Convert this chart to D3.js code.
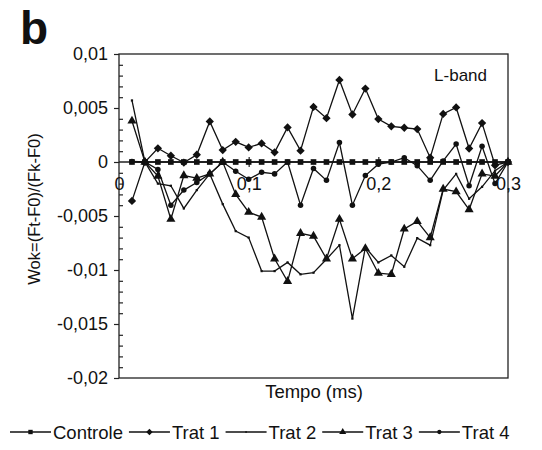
<!DOCTYPE html>
<html>
<head>
<meta charset="utf-8">
<script src="https://cdn.jsdelivr.net/npm/d3@7"></script>
<style>
  body { margin: 0; background: #fff; }
  text { font-family: "Liberation Sans", Arial, sans-serif; fill: #111; }
</style>
</head>
<body>
<div id="chart"></div>
<script>
// data
var tempo = [0.01, 0.02, 0.03, 0.04, 0.05, 0.06, 0.07, 0.08, 0.09, 0.10,
             0.11, 0.12, 0.13, 0.14, 0.15, 0.16, 0.17, 0.18, 0.19, 0.20,
             0.21, 0.22, 0.23, 0.24, 0.25, 0.26, 0.27, 0.28, 0.29, 0.30];
var controle = [0, 0, 0, 0, 0, 0, 0, 0, 0, 0,
                0, 0, 0, 0, 0, 0, 0, 0, 0, 0,
                0, 0, 0, 0, 0, 0, 0, 0, 0, 0];
var trat1 = [-0.0036, 0, 0.00127, 0.00058, -0.00005, 0.00067, 0.00376, 0.0011, 0.00187, 0.00135,
             0.00172, 0.0009, 0.0032, 0.00105, 0.0051, 0.00406, 0.0076, 0.0044, 0.0068, 0.00397,
             0.0033, 0.00317, 0.00305, 0.0004, 0.00445, 0.00505, 0.00125, 0.0036, -0.0003, 0];
var trat2 = [0.0057, 0, -0.002, -0.0022, -0.0043, -0.0026, -0.0011, -0.0039, -0.0064, -0.007,
             -0.0101, -0.0101, -0.0093, -0.0104, -0.01025, -0.009, -0.0077, -0.0145, -0.0079, -0.0093,
             -0.00865, -0.0097, -0.00705, -0.0077, -0.0026, -0.0011, -0.0034, -0.0023, -0.0008, 0];
var trat3 = [0.0038, 0, -0.0013, -0.0053, -0.00125, -0.0015, -0.0011, 0, -0.003, -0.00465,
             -0.0051, -0.00896, -0.01105, -0.0066, -0.00686, -0.00896, -0.0053, -0.00896, -0.008, -0.0103,
             -0.0104, -0.0062, -0.0055, -0.007, -0.0025, -0.00275, -0.0044, -0.0011, -0.0013, 0];
var trat4 = [0.00005, 0, -0.0007, -0.004, -0.0026, -0.0019, -0.0011, 0, -0.00085, -0.0016,
             -0.00095, -0.0011, 0, -0.004, -0.0006, -0.0017, 0.0018, -0.004, -0.00126, -0.0002,
             0, 0.0004, -0.00034, -0.0017, 0.0001, 0.00166, -0.0022, 0.00145, -0.002, 0];
var seriesNames = ["Controle", "Trat 1", "Trat 2", "Trat 3", "Trat 4"];
var xTicks = [0, 0.1, 0.2, 0.3];
var yTicks = [0.01, 0.005, 0, -0.005, -0.01, -0.015, -0.02];

var series = [
  {name: seriesNames[0], values: controle, symbol: d3.symbolSquare, size: 32},
  {name: seriesNames[1], values: trat1, symbol: d3.symbolDiamond2, size: 44},
  {name: seriesNames[2], values: trat2, symbol: d3.symbolSquare, size: 5},
  {name: seriesNames[3], values: trat3, symbol: d3.symbolTriangle, size: 36},
  {name: seriesNames[4], values: trat4, symbol: d3.symbolCircle, size: 24}
];

var W = 542, H = 450;
var plot = {left: 119, right: 508, top: 54, bottom: 378};

var svg = d3.select("#chart")
    .append("svg")
    .attr("width", W)
    .attr("height", H);

var x = d3.scaleLinear().domain([0, 0.3]).range([plot.left, plot.right]);
var y = d3.scaleLinear().domain([-0.02, 0.01]).range([plot.bottom, plot.top]);

var loc = d3.formatLocale({decimal: ",", thousands: ".", grouping: [3], currency: ["", ""], minus: "-"});
var fmt = loc.format("~g");

// panel letter
svg.append("text")
    .attr("x", 20).attr("y", 44)
    .style("font-size", "46px")
    .style("font-weight", "bold")
    .text("b");

// frame
svg.append("rect")
    .attr("x", plot.left).attr("y", plot.top)
    .attr("width", plot.right - plot.left)
    .attr("height", plot.bottom - plot.top)
    .attr("fill", "none")
    .attr("stroke", "#222")
    .attr("stroke-width", 1.3);

// Y axis: major ticks + labels
var yAxis = svg.append("g")
    .attr("transform", "translate(" + plot.left + ",0)")
    .call(d3.axisLeft(y).tickValues(yTicks).tickSize(5).tickPadding(6).tickFormat(fmt));
yAxis.select(".domain").remove();
yAxis.selectAll("text").style("font-size", "18px").style("font-family", "Liberation Sans, Arial, sans-serif").attr("fill", "#111");
yAxis.selectAll("line").attr("stroke", "#222").attr("stroke-width", 1.2);

// Y minor ticks (inside)
var minor = d3.range(-20, 11).filter(function(k) { return k % 5 !== 0; }).map(function(k) { return k / 1000; });
var yMinor = svg.append("g")
    .attr("transform", "translate(" + plot.left + ",0)")
    .call(d3.axisRight(y).tickValues(minor).tickSize(4).tickFormat(""));
yMinor.select(".domain").remove();
yMinor.selectAll("line").attr("stroke", "#222").attr("stroke-width", 1.2);

// X axis on y = 0
var y0 = y(0);
svg.append("line")
    .attr("x1", plot.left).attr("x2", plot.right)
    .attr("y1", y0).attr("y2", y0)
    .attr("stroke", "#222").attr("stroke-width", 1.3);
var xAxisDown = svg.append("g")
    .attr("transform", "translate(0," + y0 + ")")
    .call(d3.axisBottom(x).tickValues(xTicks).tickSize(0).tickPadding(15).tickFormat(fmt));
xAxisDown.select(".domain").remove();
xAxisDown.selectAll("text").style("font-size", "18px").style("font-family", "Liberation Sans, Arial, sans-serif").attr("fill", "#111");
[d3.axisBottom, d3.axisTop].forEach(function(ax) {
  var g = svg.append("g")
      .attr("transform", "translate(0," + y0 + ")")
      .call(ax(x).tickValues(xTicks.slice(1, 3)).tickSize(5).tickFormat(""));
  g.select(".domain").remove();
  g.selectAll("line").attr("stroke", "#222").attr("stroke-width", 1.2);
});

// axis titles
svg.append("text")
    .attr("transform", "translate(40,209) rotate(-90)")
    .style("text-anchor", "middle")
    .style("font-size", "16.5px")
    .text("Wok=(Ft-F0)/(Fk-F0)");

svg.append("text")
    .attr("x", 314).attr("y", 398)
    .style("text-anchor", "middle")
    .style("font-size", "18.5px")
    .text("Tempo (ms)");

svg.append("text")
    .attr("x", 487).attr("y", 81)
    .style("text-anchor", "end")
    .style("font-size", "17px")
    .text("L-band");

// series lines + markers
var line = d3.line()
    .x(function(d, i) { return x(tempo[i]); })
    .y(function(d) { return y(d); });

series.forEach(function(s) {
  svg.append("path")
      .datum(s.values)
      .attr("fill", "none")
      .attr("stroke", "#111")
      .attr("stroke-width", 1.3)
      .attr("d", line);
  svg.append("g")
    .selectAll("path")
    .data(s.values)
    .enter()
    .append("path")
      .attr("transform", function(d, i) { return "translate(" + x(tempo[i]) + "," + y(d) + ")"; })
      .attr("d", d3.symbol().type(s.symbol).size(s.size))
      .attr("fill", "#111");
});

// legend
var lx = 10, ly = 432;
series.forEach(function(s) {
  var g = svg.append("g");
  g.append("line")
      .attr("x1", lx).attr("x2", lx + 41)
      .attr("y1", ly).attr("y2", ly)
      .attr("stroke", "#111").attr("stroke-width", 1.3);
  g.append("path")
      .attr("transform", "translate(" + (lx + 20.5) + "," + ly + ")")
      .attr("d", d3.symbol().type(s.symbol).size(s.size * 0.6))
      .attr("fill", "#111");
  var t = g.append("text")
      .attr("x", lx + 43).attr("y", ly + 6.5)
      .style("font-size", "18.5px")
      .text(s.name);
  lx += 43 + t.node().getComputedTextLength() + 6;
});
</script>
</body>
</html>
